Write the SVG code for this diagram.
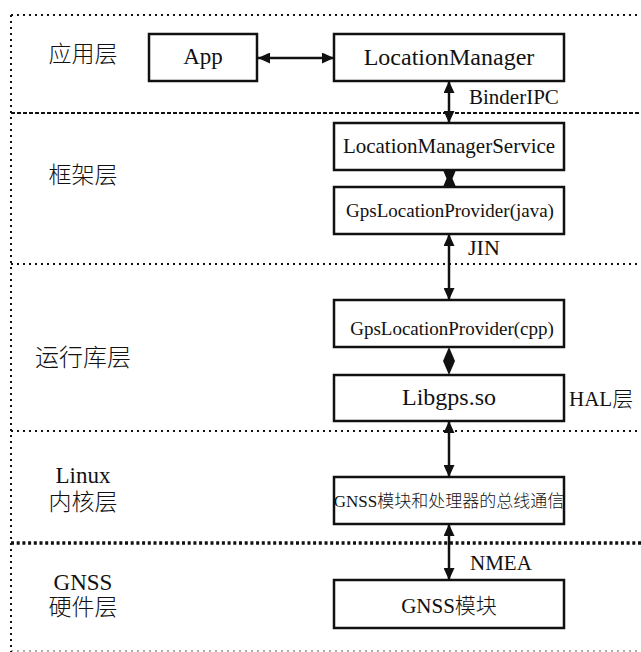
<svg xmlns="http://www.w3.org/2000/svg" width="641" height="652" viewBox="0 0 641 652">
  <style>
    text { fill: #111; font-family: "Liberation Serif", "Noto Sans CJK SC", serif; font-weight: 300; }
    .mid { text-anchor: middle; }
    .box { fill: #fff; stroke: #111; stroke-width: 2.5; }
    .dot { fill: none; stroke: #111; stroke-width: 2; stroke-dasharray: 2 4; }
    .dash { fill: none; stroke: #111; stroke-width: 2; stroke-dasharray: 4 2; }
    .thick { fill: none; stroke: #111; stroke-width: 3.5; stroke-dasharray: 3 2.7; }
    .link { fill: none; stroke: #111; stroke-width: 2.5; }
    .head { fill: #111; stroke: none; }
  </style>
  <defs>
    <marker id="arrow" viewBox="0 0 12 11" markerWidth="12" markerHeight="11" refX="12" refY="5.5" markerUnits="userSpaceOnUse" orient="auto-start-reverse">
      <path d="M0,0 L12,5.5 L0,11 z" fill="#111"/>
    </marker>
  </defs>

  <!-- layer boundaries -->
  <g id="layers">
    <line class="dot" x1="11" y1="15" x2="641" y2="15"/>
    <line class="dot" x1="11" y1="15" x2="11" y2="652"/>
    <line class="dash" x1="11" y1="113" x2="641" y2="113"/>
    <line class="dot" x1="11" y1="264" x2="641" y2="264"/>
    <line class="dot" x1="11" y1="431" x2="641" y2="431"/>
    <line class="thick" x1="11" y1="543" x2="641" y2="543"/>
    <line class="dot" x1="11" y1="651" x2="641" y2="651" stroke-opacity="0.35"/>
  </g>

  <!-- layer names -->
  <g id="layer-labels" font-size="23">
    <text class="mid" x="83" y="62">应用层</text>
    <text class="mid" x="83" y="183">框架层</text>
    <text class="mid" x="83" y="366" font-size="24">运行库层</text>
    <text class="mid" x="83" y="483">Linux</text>
    <text class="mid" x="83" y="510">内核层</text>
    <text class="mid" x="83" y="590">GNSS</text>
    <text class="mid" x="83" y="615">硬件层</text>
  </g>

  <!-- connectors -->
  <g id="connectors">
    <line class="link" x1="258" y1="58" x2="334" y2="58" marker-start="url(#arrow)" marker-end="url(#arrow)"/>
    <line class="link" x1="449" y1="81" x2="449" y2="123" marker-start="url(#arrow)" marker-end="url(#arrow)"/>
    <path class="head" d="M443,170 L456,170 L452.5,178.5 L456,187 L443,187 L446.5,178.5 z"/>
    <line class="link" x1="449" y1="234" x2="449" y2="300" marker-start="url(#arrow)" marker-end="url(#arrow)"/>
    <path class="head" d="M449,347 L455,361 L449,375 L443,361 z"/>
    <line class="link" x1="449" y1="421" x2="449" y2="477" marker-start="url(#arrow)" marker-end="url(#arrow)"/>
    <line class="link" x1="449" y1="524" x2="449" y2="580" marker-start="url(#arrow)" marker-end="url(#arrow)"/>
    <text x="469" y="104" font-size="21">BinderIPC</text>
    <text x="468" y="255" font-size="22">JIN</text>
    <text x="569" y="406" font-size="21">HAL层</text>
    <text x="470" y="570" font-size="21">NMEA</text>
  </g>

  <!-- nodes -->
  <g id="app">
    <rect class="box" x="149" y="34" width="108" height="47"/>
    <text class="mid" x="203" y="64" font-size="23">App</text>
  </g>
  <g id="location-manager">
    <rect class="box" x="334" y="34" width="230" height="47"/>
    <text class="mid" x="449" y="65" font-size="24">LocationManager</text>
  </g>
  <g id="location-manager-service">
    <rect class="box" x="334" y="123" width="230" height="47"/>
    <text class="mid" x="449" y="153" font-size="21">LocationManagerService</text>
  </g>
  <g id="gps-provider-java">
    <rect class="box" x="334" y="187" width="230" height="47"/>
    <text class="mid" x="450" y="217" font-size="19">GpsLocationProvider(java)</text>
  </g>
  <g id="gps-provider-cpp">
    <rect class="box" x="334" y="300" width="230" height="47"/>
    <text class="mid" x="452" y="335" font-size="19">GpsLocationProvider(cpp)</text>
  </g>
  <g id="libgps">
    <rect class="box" x="334" y="375" width="230" height="46"/>
    <text class="mid" x="449" y="405" font-size="24">Libgps.so</text>
  </g>
  <g id="bus">
    <rect class="box" x="334" y="477" width="230" height="47"/>
    <text class="mid" x="449" y="507" font-size="17">GNSS模块和处理器的总线通信</text>
  </g>
  <g id="gnss-module">
    <rect class="box" x="334" y="580" width="230" height="48"/>
    <text class="mid" x="449" y="613" font-size="21">GNSS模块</text>
  </g>
</svg>
